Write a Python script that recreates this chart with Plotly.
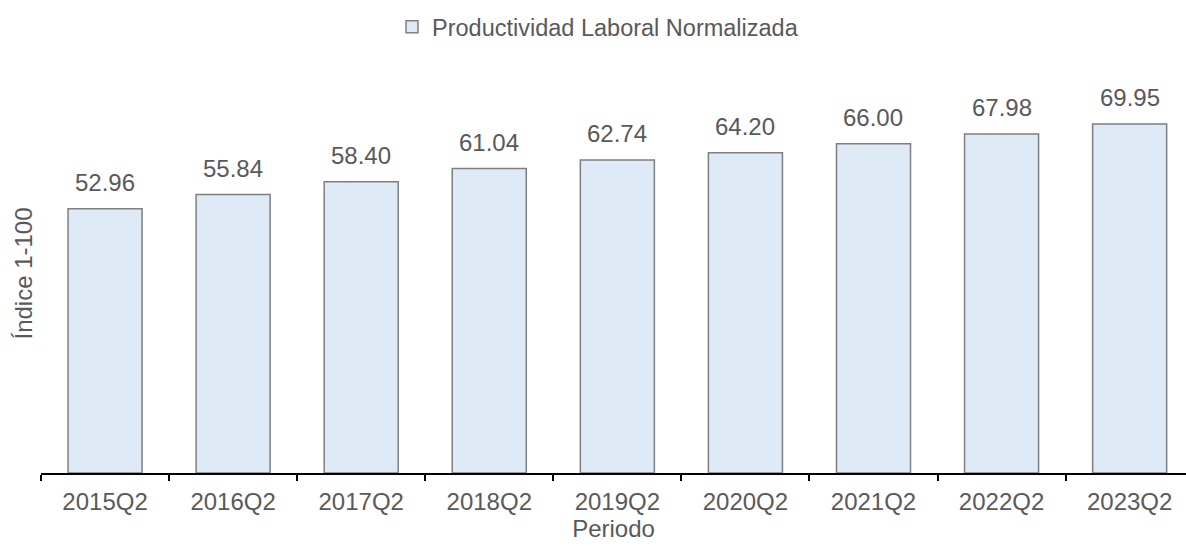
import plotly.graph_objects as go

categories = ["2015Q2", "2016Q2", "2017Q2", "2018Q2", "2019Q2",
              "2020Q2", "2021Q2", "2022Q2", "2023Q2"]
values = [52.96, 55.84, 58.40, 61.04, 62.74, 64.20, 66.00, 67.98, 69.95]
series_name = "Productividad Laboral Normalizada"
x_title = "Periodo"
y_title = "Índice 1-100"

FONT = "Liberation Sans, Arial, sans-serif"
TXT = "#595959"
FS = 24

fig = go.Figure()
fig.add_trace(go.Bar(
    x=categories, y=values, name=series_name,
    width=0.578,
    marker=dict(color="#DEEAF6", line=dict(color="#7F7F7F", width=1.5)),
))

for c, v in zip(categories, values):
    fig.add_annotation(x=c, y=v, text=f"{v:.2f}", showarrow=False,
                       yanchor="bottom", yshift=11,
                       font=dict(family=FONT, size=FS, color=TXT))

fig.update_layout(
    width=1186, height=546,
    margin=dict(l=41, r=0, t=74, b=73),
    paper_bgcolor="white", plot_bgcolor="white",
    font=dict(family=FONT, size=FS, color=TXT),
    showlegend=True,
    legend=dict(orientation="h", xref="container", yref="container",
                x=392 / 1186, y=1 - 27 / 546, xanchor="left", yanchor="middle",
                itemwidth=30,
                font=dict(family=FONT, size=23.5, color=TXT)),
)
fig.update_xaxes(
    range=[-0.5, 8.44], showline=True, linecolor="black", linewidth=2,
    ticks="outside", tickson="boundaries", ticklen=6, tickwidth=2,
    tickcolor="black", showgrid=False,
    ticklabelstandoff=6,
    tickfont=dict(family=FONT, size=FS, color=TXT),
    title=dict(text=x_title, font=dict(family=FONT, size=FS, color=TXT), standoff=0),
    automargin=False,
)
fig.update_yaxes(
    range=[0, 80], showline=False, showticklabels=False, ticks="",
    showgrid=False, zeroline=False,
    title=dict(text=y_title, font=dict(family=FONT, size=FS, color=TXT), standoff=0),
    automargin=False,
)

fig.write_html("out.html", config={"displayModeBar": False},
               post_script="document.body.style.margin='0';")
